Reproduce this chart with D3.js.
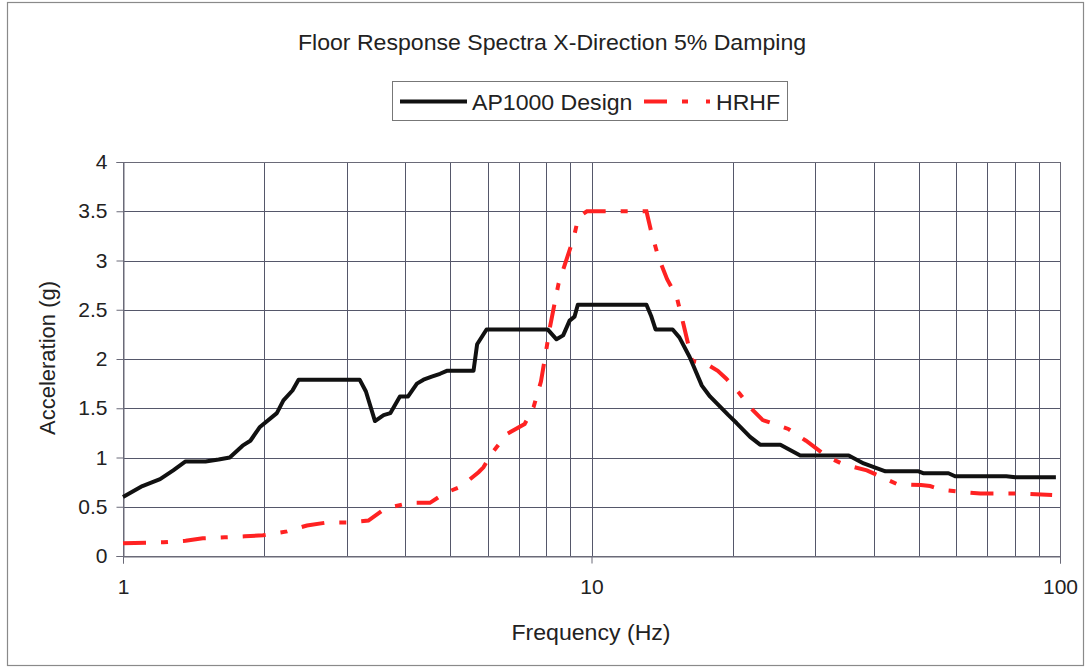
<!DOCTYPE html>
<html>
<head>
<meta charset="utf-8">
<script src="https://cdn.jsdelivr.net/npm/d3@7"></script>
<style>
  html, body { margin: 0; padding: 0; background: #fff; }
  svg { display: block; }
  text { font-family: "Liberation Sans", Arial, sans-serif; fill: #222; }
</style>
</head>
<body>
<svg id="chart" width="1090" height="668"></svg>
<script>
// Floor response spectra, X-direction, 5% damping
const titleText = "Floor Response Spectra X-Direction 5% Damping";
const xTitle = "Frequency (Hz)";
const yTitle = "Acceleration (g)";
const seriesNames = ["AP1000 Design", "HRHF"];

const xTickValues = [1, 10, 100];
const yTickValues = [0, 0.5, 1, 1.5, 2, 2.5, 3, 3.5, 4];
const yTickLabels = ["0", "0.5", "1", "1.5", "2", "2.5", "3", "3.5", "4"];

// AP1000 Design spectrum: frequency (Hz), acceleration (g)
const designFreq = [1.0, 1.1, 1.2, 1.28, 1.36, 1.5, 1.6, 1.69, 1.8, 1.87, 1.96, 2.13, 2.2, 2.3, 2.37,
  3.2, 3.3, 3.45, 3.6, 3.72, 3.9, 4.06, 4.24, 4.38, 4.56, 4.75, 4.91, 5.6, 5.7, 5.97,
  8.06, 8.42, 8.7, 8.98, 9.2, 9.35, 13.1, 13.4, 13.7, 14.9, 15.4, 16.2, 17.2, 17.9, 19.6,
  20.4, 21.8, 22.9, 25.3, 27.9, 35.4, 38.1, 42.4, 49.9, 51.2, 57.8, 59.7, 76.8, 80.3, 98];
const designAcc = [0.60, 0.71, 0.78, 0.87, 0.96, 0.96, 0.98, 1.00, 1.12, 1.17, 1.31, 1.45, 1.58, 1.68, 1.79,
  1.79, 1.67, 1.37, 1.43, 1.45, 1.62, 1.62, 1.75, 1.79, 1.82, 1.85, 1.88, 1.88, 2.15, 2.30,
  2.30, 2.20, 2.24, 2.39, 2.43, 2.55, 2.55, 2.44, 2.30, 2.30, 2.22, 2.02, 1.73, 1.62, 1.43,
  1.35, 1.21, 1.13, 1.13, 1.02, 1.02, 0.94, 0.86, 0.86, 0.84, 0.84, 0.81, 0.81, 0.80, 0.80];

// HRHF spectrum: frequency (Hz), acceleration (g)
const hrhfFreq = [1.0, 1.22, 1.36, 1.48, 1.65, 1.82, 1.99, 2.24, 2.47, 2.72, 3.03, 3.34, 3.62, 4.09, 4.52,
  4.87, 5.24, 5.41, 5.74, 5.88, 6.12, 6.6, 7.2, 7.52, 7.8, 7.96, 8.15, 8.5, 8.9, 9.16, 9.38, 9.78,
  13.1, 13.4, 13.9, 14.5, 15.2, 15.7, 16.4, 17.6, 18.6, 19.4, 20.7, 22.1, 23.2, 24.2, 26.3, 28.7,
  31.8, 34.5, 38.7, 41.7, 44.9, 50.5, 52.8, 55.7, 61.7, 67.6, 82.2, 96.2];
const hrhfAcc = [0.13, 0.14, 0.155, 0.18, 0.19, 0.20, 0.21, 0.25, 0.31, 0.34, 0.34, 0.36, 0.48, 0.54, 0.54,
  0.64, 0.70, 0.75, 0.85, 0.90, 1.04, 1.24, 1.34, 1.51, 1.77, 2.02, 2.32, 2.76, 3.05, 3.23, 3.44, 3.50,
  3.50, 3.30, 3.03, 2.81, 2.63, 2.36, 1.98, 1.95, 1.88, 1.80, 1.65, 1.48, 1.38, 1.35, 1.29, 1.17,
  1.01, 0.93, 0.87, 0.80, 0.73, 0.72, 0.71, 0.675, 0.65, 0.635, 0.635, 0.62];

const svg = d3.select("#chart");
const plot = { left: 123, right: 1060, top: 162, bottom: 556 };
const stretch = 1.05; // horizontal text stretch

// outer chart frame
svg.append("rect")
  .attr("x", 7.5).attr("y", 2.5).attr("width", 1076).attr("height", 663)
  .attr("fill", "#fff").attr("stroke", "#8a8a8a").attr("stroke-width", 1.2);

const x = d3.scaleLog().domain([1, 100]).range([plot.left, plot.right]);
const y = d3.scaleLinear().domain([0, 4]).range([plot.bottom, plot.top]);

// grid lines: every decade subdivision vertically, every 0.5 g horizontally
const xGrid = [];
for (let dec = 1; dec < 100; dec *= 10) for (let k = 1; k <= 9; k++) xGrid.push(dec * k);
xGrid.push(100);
const gridColor = "#55576a";

svg.append("g").selectAll("line").data(xGrid).join("line")
  .attr("x1", d => Math.round(x(d)) + 0.5).attr("x2", d => Math.round(x(d)) + 0.5)
  .attr("y1", plot.top).attr("y2", plot.bottom)
  .attr("stroke", gridColor).attr("stroke-width", 1);

svg.append("g").selectAll("line").data(yTickValues).join("line")
  .attr("x1", plot.left).attr("x2", plot.right)
  .attr("y1", d => Math.round(y(d)) + 0.5).attr("y2", d => Math.round(y(d)) + 0.5)
  .attr("stroke", gridColor).attr("stroke-width", 1);

// plot border
svg.append("rect")
  .attr("x", plot.left + 0.5).attr("y", plot.top + 0.5)
  .attr("width", plot.right - plot.left).attr("height", plot.bottom - plot.top)
  .attr("fill", "none").attr("stroke", "#6a6a78").attr("stroke-width", 1);

// axes
const yAxis = d3.axisLeft(y).tickValues(yTickValues)
  .tickFormat((d, i) => yTickLabels[i]).tickSize(7).tickPadding(9);
const gy = svg.append("g").attr("transform", `translate(${plot.left + 0.5},0)`).call(yAxis);
gy.select(".domain").attr("stroke", "#6a6a78");
gy.selectAll(".tick line").attr("stroke", "#6a6a78");
gy.selectAll(".tick text").style("font-size", "21px").attr("fill", "#222")
  .attr("font-family", "Liberation Sans, Arial, sans-serif");

const xAxis = d3.axisBottom(x).tickValues(xTickValues)
  .tickFormat(d3.format("d")).tickSize(7).tickPadding(16);
const gx = svg.append("g").attr("transform", `translate(0,${plot.bottom + 0.5})`).call(xAxis);
gx.select(".domain").attr("stroke", "#6a6a78");
gx.selectAll(".tick line").attr("stroke", "#6a6a78");
gx.selectAll(".tick text").style("font-size", "21px").attr("fill", "#222")
  .attr("font-family", "Liberation Sans, Arial, sans-serif");

// series lines
const line = d3.line().x(d => x(d[0])).y(d => y(d[1]));
const designPts = designFreq.map((f, i) => [f, designAcc[i]]);
const hrhfPts = hrhfFreq.map((f, i) => [f, hrhfAcc[i]]);

svg.append("path").datum(hrhfPts)
  .attr("d", line).attr("fill", "none")
  .attr("stroke", "#ff2222").attr("stroke-width", 4)
  .attr("stroke-dasharray", "23,15,7,15");

svg.append("path").datum(designPts)
  .attr("d", line).attr("fill", "none")
  .attr("stroke", "#111").attr("stroke-width", 4)
  .attr("stroke-linejoin", "round");

// horizontal text helper with a slight horizontal stretch
function label(g, tx, ty, str, anchor) {
  return g.append("text")
    .attr("transform", `translate(${tx},${ty}) scale(${stretch},1)`)
    .attr("text-anchor", anchor || "start")
    .style("font-size", "22px").text(str);
}

// title
label(svg, 552, 50, titleText, "middle");

// axis titles
label(svg, 591, 640, xTitle, "middle");
svg.append("text").attr("transform", "translate(55,358) rotate(-90)").attr("text-anchor", "middle")
  .style("font-size", "22px").text(yTitle);

// legend
const lg = svg.append("g");
lg.append("rect").attr("x", 392.5).attr("y", 81.5).attr("width", 395).attr("height", 39)
  .attr("fill", "#fff").attr("stroke", "#777").attr("stroke-width", 1);
lg.append("line").attr("x1", 400).attr("x2", 467).attr("y1", 101.5).attr("y2", 101.5)
  .attr("stroke", "#111").attr("stroke-width", 4);
label(lg, 472, 110, seriesNames[0]);
lg.append("line").attr("x1", 644).attr("x2", 710).attr("y1", 101.5).attr("y2", 101.5)
  .attr("stroke", "#ff2222").attr("stroke-width", 4)
  .attr("stroke-dasharray", "23,15,6,18,4,40");
label(lg, 716, 110, seriesNames[1]);
</script>
</body>
</html>
